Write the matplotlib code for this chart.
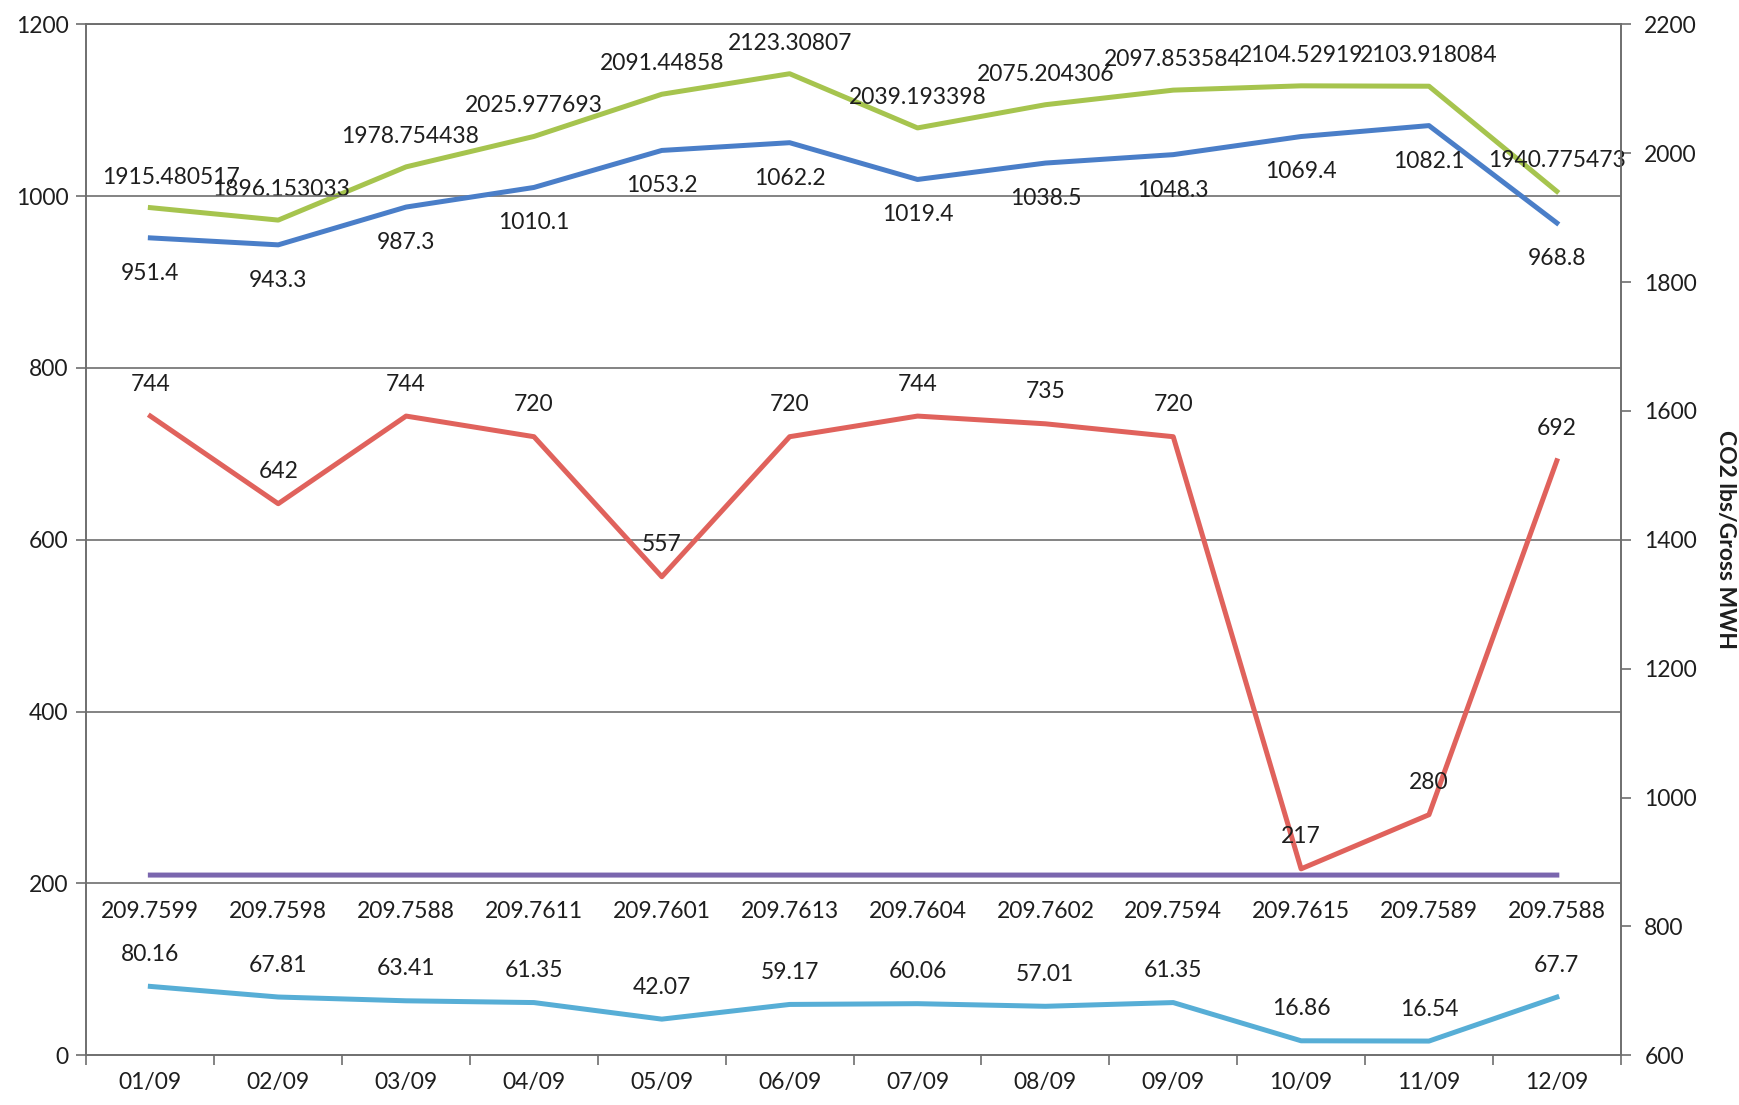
import numpy as np
import matplotlib
matplotlib.use("Agg")
import matplotlib.pyplot as plt

plt.rcParams['font.family'] = ['Lato', 'DejaVu Sans']

months = ["01/09", "02/09", "03/09", "04/09", "05/09", "06/09",
          "07/09", "08/09", "09/09", "10/09", "11/09", "12/09"]

blue_vals = [951.4, 943.3, 987.3, 1010.1, 1053.2, 1062.2, 1019.4, 1038.5,
             1048.3, 1069.4, 1082.1, 968.8]
green_vals = [1915.480517, 1896.153033, 1978.754438, 2025.977693, 2091.44858,
              2123.30807, 2039.193398, 2075.204306, 2097.853584, 2104.52919,
              2103.918084, 1940.775473]
green_labels = ["1915.480517", "1896.153033", "1978.754438", "2025.977693",
                "2091.44858", "2123.30807", "2039.193398", "2075.204306",
                "2097.853584", "2104.52919", "2103.918084", "1940.775473"]
red_vals = [744, 642, 744, 720, 557, 720, 744, 735, 720, 217, 280, 692]
purple_vals = [209.7599, 209.7598, 209.7588, 209.7611, 209.7601, 209.7613,
               209.7604, 209.7602, 209.7594, 209.7615, 209.7589, 209.7588]
purple_labels = ["209.7599", "209.7598", "209.7588", "209.7611", "209.7601",
                 "209.7613", "209.7604", "209.7602", "209.7594", "209.7615",
                 "209.7589", "209.7588"]
aqua_vals = [80.16, 67.81, 63.41, 61.35, 42.07, 59.17, 60.06, 57.01, 61.35,
             16.86, 16.54, 67.7]

left_ticks = [0, 200, 400, 600, 800, 1000, 1200]
right_ticks = [600, 800, 1000, 1200, 1400, 1600, 1800, 2000, 2200]

FS = 16.5
c_blue = '#4A7EC8'
c_green = '#A6C44E'
c_red = '#E0625C'
c_purple = '#7A66AE'
c_aqua = '#57AED6'
c_grid = '#6E6E6E'
c_text = '#1E1E1E'

fig = plt.figure(figsize=(17.39, 11.05), dpi=100)
ax = fig.add_axes([0.0497, 0.045, 0.8823, 0.933])
ax2 = ax.twinx()
ax.set_zorder(ax2.get_zorder() + 1)
ax.patch.set_visible(False)

x = np.arange(len(months))
ax.set_xlim(-0.5, len(months) - 0.5)
ax.set_ylim(0, 1200)
ax2.set_ylim(600, 2200)

ax.set_yticks(left_ticks)
ax2.set_yticks(right_ticks)
for t in left_ticks[1:]:
    ax.axhline(t, color=c_grid, lw=1.2, zorder=0)

lw = 3.6
ax.plot(x, blue_vals, color=c_blue, lw=lw, solid_joinstyle='round', zorder=3)
ax.plot(x, red_vals, color=c_red, lw=lw, solid_joinstyle='round', zorder=3)
ax.plot(x, purple_vals, color=c_purple, lw=lw, zorder=3)
ax.plot(x, aqua_vals, color=c_aqua, lw=lw, solid_joinstyle='round', zorder=3)
ax2.plot(x, green_vals, color=c_green, lw=lw, solid_joinstyle='round', zorder=3)

def labels(axis, vals, texts, dy, dx=None):
    if dx is None:
        dx = [0] * len(vals)
    for xi, v, t, d in zip(x, vals, texts, dx):
        axis.annotate(t, (xi, v), xytext=(d, dy), textcoords='offset points',
                      ha='center', va='center', fontsize=FS, color=c_text,
                      zorder=5)

labels(ax, blue_vals, [f"{v:g}" for v in blue_vals], -25.5)
labels(ax, red_vals, [str(v) for v in red_vals], 23)
labels(ax, purple_vals, purple_labels, -26)
labels(ax, aqua_vals, [f"{v:g}" for v in aqua_vals], 23)
green_dx = [15, 2, 3, 0, 0, 0, 0, 0, 0, 0, 0, 0]
labels(ax2, green_vals, green_labels, 22, green_dx)

ax.set_xticks(x)
ax.set_xticklabels(months, fontsize=FS, color=c_text)
ax.set_xticks(np.arange(-0.5, len(months), 1), minor=True)
ax.tick_params(axis='x', which='major', length=0, pad=12)
ax.tick_params(axis='x', which='minor', length=7, color=c_grid, width=1.2, direction='out')
ax.tick_params(axis='y', labelsize=FS, labelcolor=c_text, length=7, color=c_grid, width=1.2, pad=6)
ax2.tick_params(axis='y', labelsize=FS, labelcolor=c_text, length=7, color=c_grid, width=1.2, pad=10)

for a in (ax, ax2):
    for s in a.spines.values():
        s.set_color(c_grid)
        s.set_linewidth(1.2)

ax2.set_ylabel("CO2 lbs/Gross MWH", rotation=270, fontsize=FS, fontweight='bold',
               labelpad=28, color=c_text)

fig.savefig("out.png", dpi=100, facecolor='white')
